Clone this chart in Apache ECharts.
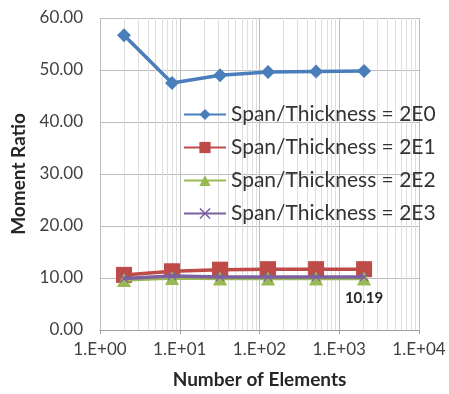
<!DOCTYPE html>
<html><head><meta charset="utf-8">
<script src="https://cdn.jsdelivr.net/npm/echarts@6/dist/echarts.min.js"></script>
<style>html,body{margin:0;padding:0;background:#fff}#c{width:449px;height:394px}</style>
</head><body><div id="c"></div>
<script>
const elements = [2, 8, 32, 128, 512, 2048];
const seriesNames = ['Span/Thickness = 2E0','Span/Thickness = 2E1','Span/Thickness = 2E2','Span/Thickness = 2E3'];
const ratio2E0 = [56.7, 47.5, 49.0, 49.6, 49.7, 49.8];
const ratio2E1 = [10.6, 11.3, 11.6, 11.7, 11.7, 11.7];
const ratio2E2 = [9.6, 10.0, 9.9, 9.9, 9.9, 9.9];
const ratio2E3 = [9.9, 10.4, 10.2, 10.2, 10.2, 10.19];
const xTicks = [1, 10, 100, 1000, 10000];
const yTicks = [0, 10, 20, 30, 40, 50, 60];
const minorGrid = [];
for (let d = 1; d < 10000; d *= 10) for (let k = 2; k <= 9; k++) minorGrid.push(k * d);

const colors = ['#4a7ebb', '#be4b48', '#98b954', '#7d60a0'];
const font = 'Lato, "Open Sans", sans-serif';
const symbols = ['diamond', 'rect', 'triangle', 'path://M1,0 L5,4 L9,0 L10,1 L6,5 L10,9 L9,10 L5,6 L1,10 L0,9 L4,5 L0,1 Z'];
const sizes = [14, 16, 14, 9];
const data = [ratio2E0, ratio2E1, ratio2E2, ratio2E3];

const series = data.map((vals, i) => ({
  name: seriesNames[i],
  type: 'line',
  data: vals.map((v, j) => [elements[j], v]),
  symbol: symbols[i],
  symbolSize: sizes[i],
  showAllSymbol: true,
  lineStyle: { color: colors[i], width: 3.5 },
  itemStyle: { color: colors[i] },
  z: 3 + i,
  animation: false
}));
series[0].markLine = {
  silent: true, symbol: 'none', animation: false,
  label: { show: false },
  lineStyle: { color: '#dedede', width: 1, type: 'solid' },
  data: minorGrid.map(v => ({ xAxis: v })),
  z: 1
};
series[3].label = {
  show: true, position: 'bottom', distance: 9, fontWeight: 'bold', fontSize: 15,
  color: '#262626', fontFamily: font,
  formatter: p => (p.dataIndex === elements.length - 1 ? p.value[1].toFixed(2) : '')
};

const chart = echarts.init(document.getElementById('c'), null, { renderer: 'canvas' });
chart.setOption({
  animation: false,
  color: colors,
  grid: { left: 100, right: 30, top: 18, bottom: 62, containLabel: false },
  legend: {
    orient: 'vertical', left: 178, top: 99, itemWidth: 42, itemHeight: 14, itemGap: 12,
    textStyle: { fontSize: 21, color: '#333', fontFamily: font },
    data: seriesNames
  },
  xAxis: {
    type: 'log', logBase: 10, min: xTicks[0], max: xTicks[xTicks.length - 1],
    name: 'Number of Elements', nameLocation: 'middle', nameGap: 40,
    nameTextStyle: { fontWeight: 'bold', fontSize: 19, color: '#262626', fontFamily: font },
    axisLine: { lineStyle: { color: '#a0a0a0', width: 1 } },
    axisTick: { show: true, length: 4, lineStyle: { color: '#a0a0a0' } },
    axisLabel: { fontSize: 17, color: '#404040', fontFamily: font, margin: 11,
      formatter: v => '1.E+' + String(Math.round(Math.log10(v))).padStart(2, '0') },
    splitLine: { show: true, lineStyle: { color: '#bdbdbd', width: 1 } }
  },
  yAxis: {
    type: 'value', min: yTicks[0], max: yTicks[yTicks.length - 1], interval: 10,
    name: 'Moment Ratio', nameLocation: 'middle', nameGap: 72, nameRotate: 90,
    nameTextStyle: { fontWeight: 'bold', fontSize: 19, color: '#262626', fontFamily: font },
    axisLine: { show: false },
    axisTick: { show: false },
    axisLabel: { fontSize: 17, color: '#404040', fontFamily: font, margin: 17,
      formatter: v => v.toFixed(2) },
    splitLine: { show: true, lineStyle: { color: '#bdbdbd', width: 1 } }
  },
  series: series
});
</script></body></html>
